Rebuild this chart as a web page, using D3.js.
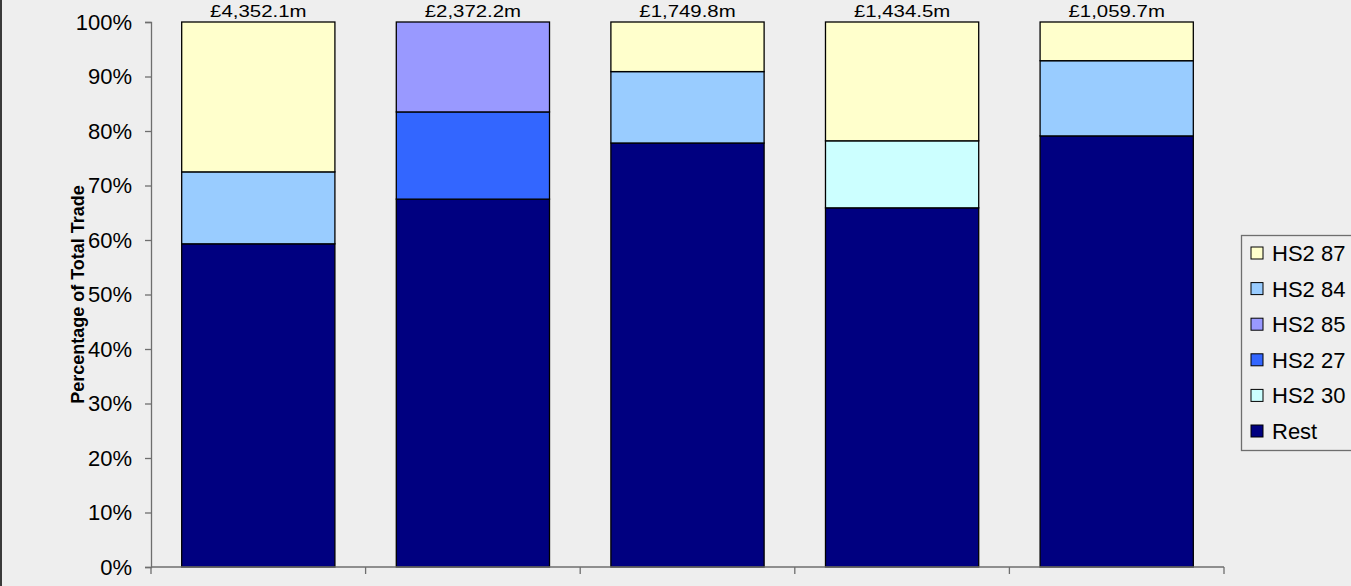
<!DOCTYPE html>
<html>
<head>
<meta charset="utf-8">
<script src="https://cdn.jsdelivr.net/npm/d3@7/dist/d3.min.js"></script>
<style>
  html, body { margin: 0; padding: 0; background: #eeeeee; }
  svg { display: block; }
  text { font-family: "Liberation Sans", Arial, sans-serif; fill: #000; }
</style>
</head>
<body>
<svg id="chart" width="1351" height="586"></svg>
<script>
// Trade totals per partner (£ millions), shown above each column
const totals = [4352.1, 2372.2, 1749.8, 1434.5, 1059.7];
const categories = ["P1", "P2", "P3", "P4", "P5"];

// Share of total trade (%) by HS2 chapter, stacked bottom to top
const stackOrder = ["Rest", "HS2 30", "HS2 27", "HS2 85", "HS2 84", "HS2 87"];
const rest  = [59.3, 67.5, 77.8, 65.9, 79.1];
const hs30  = [0, 0, 0, 12.3, 0];
const hs27  = [0, 16.0, 0, 0, 0];
const hs85  = [0, 16.5, 0, 0, 0];
const hs84  = [13.2, 0, 13.1, 0, 13.8];
const hs87  = [27.5, 0, 9.1, 21.8, 7.1];

const yTicks = [0, 10, 20, 30, 40, 50, 60, 70, 80, 90, 100];
const legendOrder = ["HS2 87", "HS2 84", "HS2 85", "HS2 27", "HS2 30", "Rest"];

const colors = {
  "HS2 87": "#ffffcc",
  "HS2 84": "#99ccff",
  "HS2 85": "#9999ff",
  "HS2 27": "#3366ff",
  "HS2 30": "#ccffff",
  "Rest":   "#000080"
};

const seriesValues = {
  "Rest": rest, "HS2 30": hs30, "HS2 27": hs27,
  "HS2 85": hs85, "HS2 84": hs84, "HS2 87": hs87
};

const rows = categories.map((c, i) => {
  const r = { cat: c, total: totals[i] };
  stackOrder.forEach(k => { r[k] = seriesValues[k][i]; });
  return r;
});

const svg = d3.select("#chart");

// frame edge on the left
svg.append("rect").attr("x", 0).attr("y", 0).attr("width", 2).attr("height", 586).attr("fill", "#3a3a3a");

const plot = { left: 151, right: 1224, top: 22, bottom: 567 };

const x = d3.scaleBand()
  .domain(categories)
  .range([plot.left, plot.right])
  .paddingInner(0.286)
  .paddingOuter(0.143);

const y = d3.scaleLinear().domain([0, 100]).range([plot.bottom, plot.top]);

const stacked = d3.stack().keys(stackOrder)(rows);

// stacked columns
const layers = svg.append("g").selectAll("g")
  .data(stacked)
  .join("g")
  .attr("fill", d => colors[d.key]);

layers.selectAll("rect")
  .data(d => d.filter(s => s[1] - s[0] > 0))
  .join("rect")
  .attr("x", d => x(d.data.cat))
  .attr("width", x.bandwidth())
  .attr("y", d => y(d[1]))
  .attr("height", d => y(d[0]) - y(d[1]))
  .attr("stroke", "#000")
  .attr("stroke-width", 1.3);

// y axis
const yAxis = svg.append("g")
  .attr("transform", `translate(${plot.left},0)`)
  .call(d3.axisLeft(y).tickValues(yTicks).tickSize(6).tickPadding(13).tickFormat(d => d + "%"));
yAxis.select(".domain").attr("stroke", "#6e6e6e").attr("stroke-width", 1.3);
yAxis.selectAll(".tick line").attr("stroke", "#6e6e6e").attr("stroke-width", 1.3);
yAxis.selectAll(".tick text")
  .attr("font-size", 22)
  .attr("font-family", "Liberation Sans, Arial, sans-serif")
  .attr("fill", "#000");

// x axis with boundary ticks between categories
const xAxisG = svg.append("g");
xAxisG.append("line")
  .attr("x1", plot.left).attr("x2", plot.right)
  .attr("y1", plot.bottom).attr("y2", plot.bottom)
  .attr("stroke", "#6e6e6e").attr("stroke-width", 1.3);
const step = x.step();
const boundaries = categories.map(c => x(c) - x.paddingOuter() * step).concat([plot.right]);
xAxisG.selectAll("line.tk")
  .data(boundaries)
  .join("line")
  .attr("class", "tk")
  .attr("x1", d => d).attr("x2", d => d)
  .attr("y1", plot.bottom).attr("y2", plot.bottom + 7)
  .attr("stroke", "#6e6e6e").attr("stroke-width", 1.3);

// totals above columns (slightly widened type)
const fmt = d3.format(",.1f");
svg.append("g").selectAll("text")
  .data(rows)
  .join("text")
  .attr("transform", d => `translate(${x(d.cat) + x.bandwidth() / 2},${y(100) - 5}) scale(1.2,1)`)
  .attr("text-anchor", "middle")
  .attr("font-size", 17)
  .text(d => "£" + fmt(d.total) + "m");

// y axis title
svg.append("text")
  .attr("transform", `translate(84,${(plot.top + plot.bottom) / 2}) rotate(-90)`)
  .attr("text-anchor", "middle")
  .attr("font-size", 18)
  .attr("font-weight", "bold")
  .text("Percentage of Total Trade");

// legend
const lg = svg.append("g");
lg.append("rect")
  .attr("x", 1241.5).attr("y", 235.5)
  .attr("width", 130).attr("height", 215)
  .attr("fill", "#eeeeee")
  .attr("stroke", "#6e6e6e").attr("stroke-width", 1.3);

const item = lg.selectAll("g.item")
  .data(legendOrder)
  .join("g")
  .attr("class", "item")
  .attr("transform", (d, i) => `translate(0,${253 + i * 35.6})`);

item.append("rect")
  .attr("x", 1251).attr("y", -6)
  .attr("width", 12).attr("height", 12)
  .attr("fill", d => colors[d])
  .attr("stroke", "#000").attr("stroke-width", 1);

item.append("text")
  .attr("x", 1272)
  .attr("y", 0)
  .attr("dy", "0.36em")
  .attr("font-size", 22)
  .text(d => d);
</script>
</body>
</html>
